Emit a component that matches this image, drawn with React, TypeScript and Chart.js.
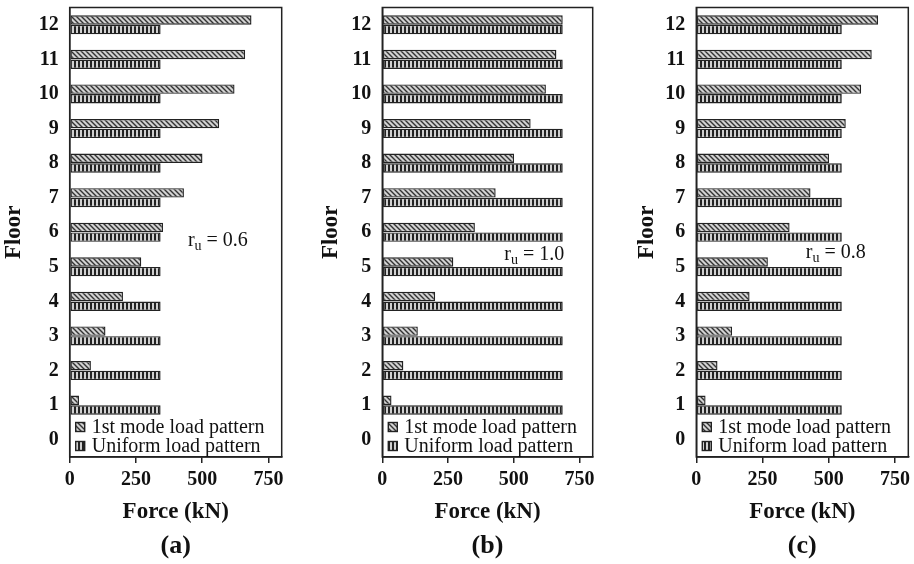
import React, { useEffect, useRef } from 'react';
import { Chart, registerables } from 'chart.js';

Chart.register(...registerables);

// ---------------- data ----------------
const floors = ['0', '1', '2', '3', '4', '5', '6', '7', '8', '9', '10', '11', '12'];
const firstModeLoad = [null, 35, 80, 135, 201, 270, 352, 431, 501, 564, 622, 662, 686];
const uniformLoadA = [null, 343, 343, 343, 343, 343, 343, 343, 343, 343, 343, 343, 343];
const uniformLoadB = [null, 686, 686, 686, 686, 686, 686, 686, 686, 686, 686, 686, 686];
const uniformLoadC = [null, 549, 549, 549, 549, 549, 549, 549, 549, 549, 549, 549, 549];
const forceTicks = [0, 250, 500, 750];
const seriesNames = ['1st mode load pattern', 'Uniform load pattern'];
const panelLabels = ['(a)', '(b)', '(c)'];
const ratioTexts = ['0.6', '1.0', '0.8'];
const uniformSeries = [uniformLoadA, uniformLoadB, uniformLoadC];

// ---------------- layout / style ----------------
const SERIF = '"Liberation Serif", "Times New Roman", serif';
const INK = '#111';

const panels = [
  { left: 0, width: 300, yWidth: 69.7, yTitlePad: 0.3, padRight: 18.3, annoX: 446, annoFloor: 5.59 },
  { left: 310, width: 300, yWidth: 72.3, yTitlePad: 6.8, padRight: 17.3, annoX: 464, annoFloor: 5.2 },
  { left: 614, width: 300, yWidth: 82.3, yTitlePad: 19.3, padRight: 5.7, annoX: 413, annoFloor: 5.25 },
];

function makeHatch(): CanvasPattern {
  const c = document.createElement('canvas');
  c.width = 5;
  c.height = 5;
  const g = c.getContext('2d')!;
  g.fillStyle = '#d2d2d2';
  g.fillRect(0, 0, 5, 5);
  g.strokeStyle = '#333';
  g.lineWidth = 1.4;
  g.beginPath();
  g.moveTo(-1, -1);
  g.lineTo(6, 6);
  g.moveTo(-1, 4);
  g.lineTo(1, 6);
  g.moveTo(4, -1);
  g.lineTo(6, 1);
  g.stroke();
  return g.createPattern(c, 'repeat')!;
}

function makeStripes(): CanvasPattern {
  const c = document.createElement('canvas');
  c.width = 4;
  c.height = 4;
  const g = c.getContext('2d')!;
  g.fillStyle = '#d0d0d0';
  g.fillRect(0, 0, 4, 4);
  g.fillStyle = '#222';
  g.fillRect(2, 0, 2, 4);
  return g.createPattern(c, 'repeat')!;
}

const decorPlugin = {
  id: 'decor',
  afterDatasetsDraw(chart: any, _args: any, opts: any) {
    const { ctx, chartArea } = chart;
    const { left, top, right, bottom } = chartArea;
    ctx.save();
    // frame
    ctx.strokeStyle = '#222';
    ctx.lineWidth = 1.5;
    ctx.strokeRect(left, top, right - left, bottom - top);

    // legend inside the plot
    const fills = [opts.hatch, opts.stripes];
    const baselines = [bottom - 24, bottom - 5];
    ctx.font = `20px ${SERIF}`;
    ctx.textAlign = 'left';
    ctx.textBaseline = 'alphabetic';
    seriesNames.forEach((name, i) => {
      const bx = left + 6;
      const by = baselines[i] - 10.5;
      ctx.fillStyle = fills[i];
      ctx.fillRect(bx, by, 9, 9);
      ctx.strokeStyle = '#222';
      ctx.lineWidth = 1.4;
      ctx.strokeRect(bx, by, 9, 9);
      ctx.fillStyle = INK;
      ctx.fillText(name, left + 22, baselines[i]);
    });

    // r_u annotation
    const xs = chart.scales.x;
    const ys = chart.scales.y;
    const ax = xs.getPixelForValue(opts.annoX);
    const ay = ys.getPixelForValue(opts.annoFloor);
    ctx.fillStyle = INK;
    ctx.font = `20px ${SERIF}`;
    ctx.fillText('r', ax, ay);
    let cx = ax + ctx.measureText('r').width;
    ctx.font = `14px ${SERIF}`;
    ctx.fillText('u', cx, ay + 4);
    cx += ctx.measureText('u').width;
    ctx.font = `20px ${SERIF}`;
    ctx.fillText(' = ' + opts.ratio, cx, ay);

    // panel label
    ctx.font = `bold 26px ${SERIF}`;
    ctx.textAlign = 'center';
    ctx.textBaseline = 'middle';
    ctx.fillText(opts.label, (left + right) / 2, 546);
    ctx.restore();
  },
};

function Panel({ index }: { index: number }) {
  const ref = useRef<HTMLCanvasElement | null>(null);
  const p = panels[index];
  useEffect(() => {
    if (!ref.current) return;
    const hatch = makeHatch();
    const stripes = makeStripes();
    const chart = new Chart(ref.current, {
      type: 'bar',
      data: {
        labels: floors,
        datasets: [
          {
            label: seriesNames[0],
            data: firstModeLoad,
            backgroundColor: hatch,
            borderColor: '#222',
            borderWidth: 1.4,
            borderSkipped: false,
            categoryPercentage: 0.56,
            barPercentage: 0.97,
          },
          {
            label: seriesNames[1],
            data: uniformSeries[index],
            backgroundColor: stripes,
            borderColor: '#222',
            borderWidth: 1.4,
            borderSkipped: false,
            categoryPercentage: 0.56,
            barPercentage: 0.97,
          },
        ],
      },
      options: {
        indexAxis: 'y',
        responsive: false,
        animation: false,
        events: [],
        layout: { padding: { top: 7.5, left: 0, right: p.padRight, bottom: 37 } },
        plugins: {
          legend: { display: false },
          tooltip: { enabled: false },
          title: { display: false },
          decor: {
            hatch,
            stripes,
            label: panelLabels[index],
            ratio: ratioTexts[index],
            annoX: p.annoX,
            annoFloor: p.annoFloor,
          },
        } as any,
        scales: {
          x: {
            type: 'linear',
            min: 0,
            max: 800,
            afterBuildTicks: (s: any) => {
              s.ticks = forceTicks.map((v) => ({ value: v }));
            },
            afterFit: (s: any) => {
              s.height = 70;
              s.paddingLeft = 0;
              s.paddingRight = 0;
            },
            grid: {
              display: true,
              drawOnChartArea: false,
              drawTicks: true,
              tickLength: 6,
              color: '#222',
              lineWidth: 1.5,
            },
            border: { display: true, color: '#222', width: 1.5 },
            ticks: {
              color: INK,
              padding: 4.5,
              font: { family: SERIF, size: 20, weight: 'bold' },
              maxRotation: 0,
            },
            title: {
              display: true,
              text: 'Force (kN)',
              color: INK,
              font: { family: SERIF, size: 23, weight: 'bold' },
              padding: { top: 0, bottom: 1.2 },
            },
          },
          y: {
            type: 'category',
            reverse: true,
            afterFit: (s: any) => {
              s.width = p.yWidth;
              s.paddingTop = 0;
              s.paddingBottom = 0;
            },
            grid: { display: false, drawTicks: false },
            border: { display: true, color: '#222', width: 1.5 },
            ticks: {
              color: INK,
              padding: 11,
              font: { family: SERIF, size: 20, weight: 'bold' },
            },
            title: {
              display: true,
              text: 'Floor',
              color: INK,
              font: { family: SERIF, size: 23, weight: 'bold' },
              padding: { top: p.yTitlePad, bottom: 0 },
            },
          },
        },
      } as any,
      plugins: [decorPlugin],
    });
    return () => chart.destroy();
  }, [index]);
  return (
    <div style={{ position: 'absolute', left: p.left, top: 0, width: p.width, height: 564 }}>
      <canvas ref={ref} width={p.width} height={564} style={{ display: 'block' }} />
    </div>
  );
}

export default function App() {
  return (
    <div style={{ position: 'absolute', left: 0, top: 0, width: 914, height: 564, background: '#fff' }}>
      <Panel index={0} />
      <Panel index={1} />
      <Panel index={2} />
    </div>
  );
}
